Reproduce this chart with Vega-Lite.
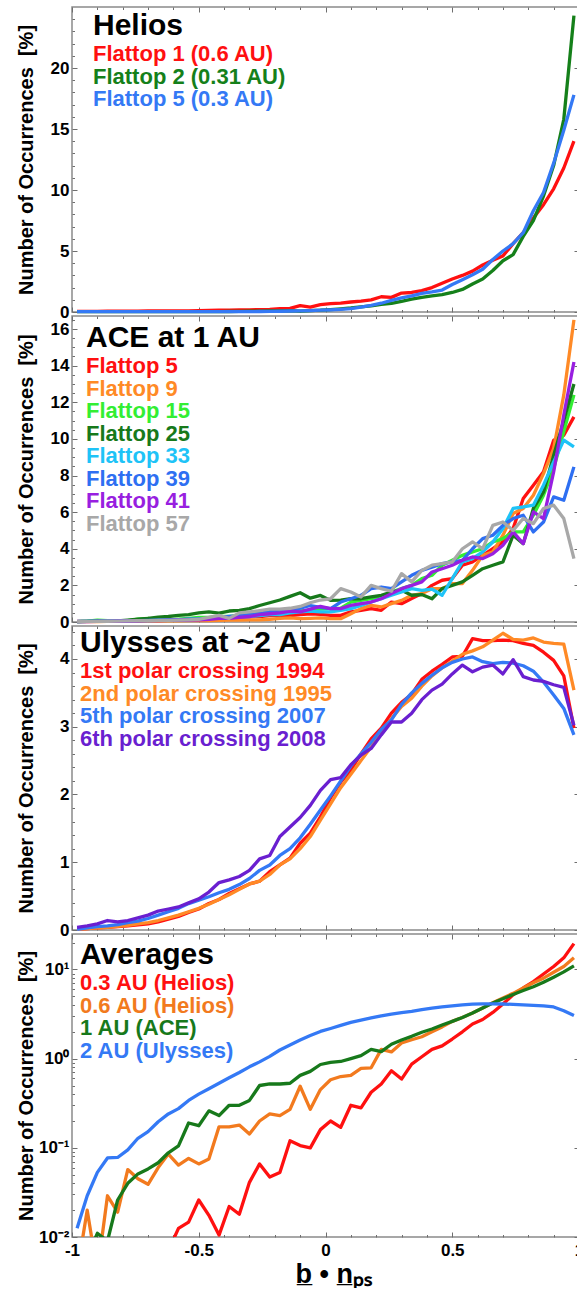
{
"$schema": "https://vega.github.io/schema/vega-lite/v6.json",
"background": "white",
"padding": {"left": 15, "top": 5, "right": 0, "bottom": 0},
"spacing": 4,
"bounds": "flush",
"config": {
  "font": "Liberation Sans",
  "view": {"stroke": "#8a8a8a", "strokeWidth": 1.5},
  "axis": {"domain": false, "grid": false, "tickColor": "#6e6e6e", "tickWidth": 1, "labelFont": "Liberation Sans", "labelFontWeight": "bold", "labelColor": "black", "labelFontSize": 17, "labelOverlap": false, "labelFlush": false, "labelBound": false, "titleFont": "Liberation Sans", "titleFontWeight": "bold", "titleColor": "black"},
  "legend": {"titleFontSize": 30, "titleFont": "Liberation Sans", "titleFontWeight": "bold", "titleColor": "black", "titleLimit": 600, "titlePadding": 2, "titleAnchor": "start", "labelFontSize": 22, "labelFont": "Liberation Sans", "labelFontWeight": "bold", "labelLimit": 600, "symbolSize": 1, "symbolType": "circle", "symbolStrokeWidth": 0, "symbolOpacity": 0, "labelOffset": -22, "rowPadding": 0.5, "padding": 0, "direction": "vertical"},
  "line": {"strokeWidth": 3.3, "strokeJoin": "round"}
},
"datasets": {
"p1": [
{"x":-0.98,"a":0.05,"b":0.03,"c":0.03},{"x":-0.94,"a":0.05,"b":0.03,"c":0.03},{"x":-0.9,"a":0.05,"b":0.03,"c":0.03},{"x":-0.86,"a":0.06,"b":0.03,"c":0.03},{"x":-0.82,"a":0.06,"b":0.03,"c":0.03},
{"x":-0.78,"a":0.07,"b":0.03,"c":0.03},{"x":-0.74,"a":0.07,"b":0.03,"c":0.03},{"x":-0.7,"a":0.08,"b":0.03,"c":0.03},{"x":-0.66,"a":0.08,"b":0.03,"c":0.03},{"x":-0.62,"a":0.09,"b":0.03,"c":0.03},
{"x":-0.58,"a":0.1,"b":0.03,"c":0.03},{"x":-0.54,"a":0.1,"b":0.03,"c":0.03},{"x":-0.5,"a":0.12,"b":0.03,"c":0.03},{"x":-0.46,"a":0.13,"b":0.03,"c":0.03},{"x":-0.42,"a":0.15,"b":0.03,"c":0.03},
{"x":-0.38,"a":0.16,"b":0.04,"c":0.03},{"x":-0.34,"a":0.17,"b":0.05,"c":0.03},{"x":-0.3,"a":0.18,"b":0.06,"c":0.03},{"x":-0.26,"a":0.2,"b":0.07,"c":0.04},{"x":-0.22,"a":0.22,"b":0.08,"c":0.05},
{"x":-0.18,"a":0.28,"b":0.1,"c":0.06},{"x":-0.14,"a":0.3,"b":0.12,"c":0.08},{"x":-0.1,"a":0.52,"b":0.08,"c":0.1},{"x":-0.06,"a":0.4,"b":0.12,"c":0.12},{"x":-0.02,"a":0.6,"b":0.15,"c":0.15},
{"x":0.02,"a":0.68,"b":0.2,"c":0.18},{"x":0.06,"a":0.72,"b":0.26,"c":0.22},{"x":0.1,"a":0.82,"b":0.33,"c":0.28},{"x":0.14,"a":0.9,"b":0.42,"c":0.4},{"x":0.18,"a":1.0,"b":0.5,"c":0.55},
{"x":0.22,"a":1.25,"b":0.62,"c":0.72},{"x":0.26,"a":1.2,"b":0.7,"c":0.95},{"x":0.3,"a":1.55,"b":0.88,"c":1.15},{"x":0.34,"a":1.6,"b":1.05,"c":1.32},{"x":0.38,"a":1.75,"b":1.2,"c":1.52},
{"x":0.42,"a":2.0,"b":1.32,"c":1.65},{"x":0.46,"a":2.35,"b":1.42,"c":1.8},{"x":0.5,"a":2.7,"b":1.6,"c":2.25},{"x":0.54,"a":3.0,"b":1.85,"c":2.65},{"x":0.58,"a":3.35,"b":2.3,"c":3.05},
{"x":0.62,"a":3.85,"b":2.7,"c":3.5},{"x":0.66,"a":4.25,"b":3.4,"c":4.3},{"x":0.7,"a":4.6,"b":4.2,"c":5.0},{"x":0.74,"a":5.6,"b":4.7,"c":5.6},{"x":0.78,"a":6.5,"b":6.2,"c":6.5},
{"x":0.82,"a":7.7,"b":7.5,"c":8.3},{"x":0.86,"a":8.8,"b":9.5,"c":9.8},{"x":0.9,"a":10.1,"b":12.0,"c":12.2},{"x":0.94,"a":11.8,"b":15.8,"c":14.9},{"x":0.98,"a":14.0,"b":24.3,"c":17.8}
],
"p2": [
{"x":-0.98,"a":0.03,"b":0.02,"c":0.02,"d":0.02,"e":0.02,"f":0.03,"g":0.02,"h":0.02},
{"x":-0.94,"a":0.03,"b":0.02,"c":0.05,"d":0.03,"e":0.03,"f":0.03,"g":0.02,"h":0.03},
{"x":-0.9,"a":0.04,"b":0.02,"c":0.1,"d":0.05,"e":0.03,"f":0.04,"g":0.03,"h":0.03},
{"x":-0.86,"a":0.05,"b":0.03,"c":0.08,"d":0.05,"e":0.04,"f":0.05,"g":0.03,"h":0.04},
{"x":-0.82,"a":0.06,"b":0.03,"c":0.05,"d":0.06,"e":0.05,"f":0.06,"g":0.04,"h":0.05},
{"x":-0.78,"a":0.07,"b":0.04,"c":0.08,"d":0.1,"e":0.06,"f":0.07,"g":0.05,"h":0.06},
{"x":-0.74,"a":0.08,"b":0.04,"c":0.15,"d":0.15,"e":0.07,"f":0.08,"g":0.06,"h":0.07},
{"x":-0.7,"a":0.09,"b":0.05,"c":0.2,"d":0.2,"e":0.08,"f":0.09,"g":0.07,"h":0.08},
{"x":-0.66,"a":0.1,"b":0.05,"c":0.12,"d":0.27,"e":0.09,"f":0.1,"g":0.08,"h":0.09},
{"x":-0.62,"a":0.1,"b":0.06,"c":0.1,"d":0.3,"e":0.1,"f":0.12,"g":0.09,"h":0.09},
{"x":-0.58,"a":0.12,"b":0.06,"c":0.15,"d":0.36,"e":0.12,"f":0.13,"g":0.1,"h":0.1},
{"x":-0.54,"a":0.13,"b":0.07,"c":0.2,"d":0.4,"e":0.14,"f":0.15,"g":0.11,"h":0.12},
{"x":-0.5,"a":0.15,"b":0.08,"c":0.25,"d":0.5,"e":0.16,"f":0.17,"g":0.12,"h":0.15},
{"x":-0.46,"a":0.17,"b":0.08,"c":0.25,"d":0.55,"e":0.2,"f":0.2,"g":0.15,"h":0.25},
{"x":-0.42,"a":0.2,"b":0.09,"c":0.3,"d":0.48,"e":0.2,"f":0.25,"g":0.2,"h":0.36},
{"x":-0.38,"a":0.22,"b":0.1,"c":0.3,"d":0.6,"e":0.25,"f":0.3,"g":0.2,"h":0.2},
{"x":-0.34,"a":0.25,"b":0.1,"c":0.35,"d":0.64,"e":0.3,"f":0.35,"g":0.25,"h":0.5},
{"x":-0.3,"a":0.28,"b":0.12,"c":0.4,"d":0.73,"e":0.3,"f":0.4,"g":0.3,"h":0.55},
{"x":-0.26,"a":0.3,"b":0.12,"c":0.45,"d":0.9,"e":0.35,"f":0.45,"g":0.4,"h":0.62},
{"x":-0.22,"a":0.35,"b":0.15,"c":0.5,"d":1.05,"e":0.4,"f":0.6,"g":0.45,"h":0.7},
{"x":-0.18,"a":0.38,"b":0.2,"c":0.5,"d":1.2,"e":0.4,"f":0.65,"g":0.5,"h":0.7},
{"x":-0.14,"a":0.35,"b":0.22,"c":0.55,"d":1.4,"e":0.5,"f":0.7,"g":0.6,"h":0.75},
{"x":-0.1,"a":0.4,"b":0.18,"c":0.6,"d":1.6,"e":0.55,"f":0.75,"g":0.55,"h":0.85},
{"x":-0.06,"a":0.45,"b":0.2,"c":0.65,"d":1.3,"e":0.6,"f":0.9,"g":0.7,"h":1.05},
{"x":-0.02,"a":0.42,"b":0.22,"c":0.7,"d":1.45,"e":0.55,"f":0.8,"g":0.85,"h":1.2},
{"x":0.02,"a":0.36,"b":0.18,"c":0.73,"d":1.18,"e":0.55,"f":0.73,"g":0.73,"h":1.27},
{"x":0.06,"a":0.36,"b":0.18,"c":0.75,"d":1.2,"e":0.64,"f":1.09,"g":0.73,"h":1.82},
{"x":0.1,"a":0.55,"b":0.45,"c":1.09,"d":1.27,"e":0.73,"f":1.27,"g":0.91,"h":1.64},
{"x":0.14,"a":0.64,"b":0.73,"c":1.18,"d":1.27,"e":0.91,"f":1.46,"g":1.0,"h":1.37},
{"x":0.18,"a":0.73,"b":0.91,"c":1.27,"d":1.37,"e":1.09,"f":1.82,"g":1.09,"h":2.0},
{"x":0.22,"a":0.64,"b":0.82,"c":1.37,"d":1.46,"e":1.27,"f":1.91,"g":1.27,"h":1.82},
{"x":0.26,"a":1.09,"b":1.0,"c":1.64,"d":1.64,"e":1.46,"f":1.82,"g":1.55,"h":1.68},
{"x":0.3,"a":1.0,"b":1.18,"c":1.82,"d":1.73,"e":1.64,"f":2.19,"g":1.82,"h":2.64},
{"x":0.34,"a":1.28,"b":1.46,"c":2.0,"d":1.46,"e":1.82,"f":2.55,"g":2.0,"h":2.19},
{"x":0.38,"a":1.55,"b":1.55,"c":2.37,"d":1.5,"e":1.73,"f":2.82,"g":2.19,"h":2.82},
{"x":0.42,"a":2.0,"b":1.82,"c":2.55,"d":1.27,"e":1.8,"f":3.0,"g":2.73,"h":3.1},
{"x":0.46,"a":2.28,"b":1.82,"c":3.1,"d":1.82,"e":1.46,"f":3.19,"g":2.91,"h":3.19},
{"x":0.5,"a":2.37,"b":2.1,"c":3.37,"d":2.0,"e":2.37,"f":3.28,"g":3.1,"h":3.28},
{"x":0.54,"a":3.1,"b":2.1,"c":3.64,"d":2.19,"e":3.28,"f":3.37,"g":3.37,"h":4.0},
{"x":0.58,"a":3.28,"b":2.82,"c":3.83,"d":2.55,"e":3.46,"f":4.0,"g":3.55,"h":4.37},
{"x":0.62,"a":3.64,"b":3.64,"c":4.0,"d":2.91,"e":3.83,"f":4.55,"g":3.46,"h":4.0},
{"x":0.66,"a":4.0,"b":3.83,"c":4.37,"d":3.1,"e":4.37,"f":4.74,"g":3.73,"h":5.28},
{"x":0.7,"a":4.37,"b":4.74,"c":4.55,"d":3.28,"e":5.1,"f":5.28,"g":4.19,"h":5.46},
{"x":0.74,"a":5.1,"b":5.92,"c":4.92,"d":4.74,"e":6.2,"f":5.65,"g":4.92,"h":5.0},
{"x":0.78,"a":6.74,"b":6.2,"c":4.92,"d":4.28,"e":6.28,"f":5.83,"g":4.28,"h":5.65},
{"x":0.82,"a":7.47,"b":6.92,"c":5.83,"d":6.2,"e":6.38,"f":4.92,"g":6.01,"h":5.37},
{"x":0.86,"a":8.2,"b":8.1,"c":6.92,"d":7.1,"e":7.47,"f":5.46,"g":5.65,"h":6.2},
{"x":0.9,"a":9.93,"b":9.47,"c":8.38,"d":9.1,"e":8.74,"f":6.83,"g":8.2,"h":6.38},
{"x":0.94,"a":10.2,"b":12.4,"c":10.4,"d":11.0,"e":9.93,"f":6.65,"g":11.3,"h":5.65},
{"x":0.98,"a":11.2,"b":16.5,"c":12.4,"d":13.0,"e":9.56,"f":8.47,"g":14.2,"h":3.46}
],
"p3": [
{"x":-0.98,"a":0.01,"b":0.01,"c":0.01,"d":0.04},{"x":-0.94,"a":0.02,"b":0.02,"c":0.03,"d":0.06},{"x":-0.9,"a":0.03,"b":0.03,"c":0.05,"d":0.09},{"x":-0.86,"a":0.04,"b":0.04,"c":0.06,"d":0.14},{"x":-0.82,"a":0.05,"b":0.055,"c":0.08,"d":0.12},
{"x":-0.78,"a":0.06,"b":0.07,"c":0.11,"d":0.14},{"x":-0.74,"a":0.075,"b":0.09,"c":0.13,"d":0.18},{"x":-0.7,"a":0.09,"b":0.11,"c":0.17,"d":0.22},{"x":-0.66,"a":0.12,"b":0.14,"c":0.22,"d":0.28},{"x":-0.62,"a":0.16,"b":0.18,"c":0.27,"d":0.31},
{"x":-0.58,"a":0.2,"b":0.22,"c":0.32,"d":0.34},{"x":-0.54,"a":0.26,"b":0.27,"c":0.39,"d":0.4},{"x":-0.5,"a":0.31,"b":0.32,"c":0.44,"d":0.46},{"x":-0.46,"a":0.39,"b":0.38,"c":0.49,"d":0.56},{"x":-0.42,"a":0.45,"b":0.45,"c":0.55,"d":0.7},
{"x":-0.38,"a":0.54,"b":0.52,"c":0.6,"d":0.74},{"x":-0.34,"a":0.61,"b":0.6,"c":0.67,"d":0.79},{"x":-0.3,"a":0.68,"b":0.68,"c":0.76,"d":0.88},{"x":-0.26,"a":0.72,"b":0.72,"c":0.88,"d":1.05},{"x":-0.22,"a":0.86,"b":0.82,"c":0.96,"d":1.1},
{"x":-0.18,"a":0.96,"b":0.96,"c":1.1,"d":1.38},{"x":-0.14,"a":1.06,"b":1.05,"c":1.2,"d":1.52},{"x":-0.1,"a":1.28,"b":1.2,"c":1.36,"d":1.66},{"x":-0.06,"a":1.43,"b":1.38,"c":1.56,"d":1.84},{"x":-0.02,"a":1.67,"b":1.62,"c":1.77,"d":2.06},
{"x":0.02,"a":1.95,"b":1.86,"c":1.98,"d":2.22},{"x":0.06,"a":2.18,"b":2.1,"c":2.2,"d":2.25},{"x":0.1,"a":2.36,"b":2.3,"c":2.42,"d":2.44},{"x":0.14,"a":2.6,"b":2.5,"c":2.6,"d":2.58},{"x":0.18,"a":2.82,"b":2.7,"c":2.77,"d":2.68},
{"x":0.22,"a":2.98,"b":2.92,"c":2.96,"d":2.88},{"x":0.26,"a":3.2,"b":3.12,"c":3.1,"d":3.07},{"x":0.3,"a":3.36,"b":3.3,"c":3.33,"d":3.07},{"x":0.34,"a":3.48,"b":3.42,"c":3.5,"d":3.2},{"x":0.38,"a":3.7,"b":3.6,"c":3.64,"d":3.4},
{"x":0.42,"a":3.82,"b":3.75,"c":3.76,"d":3.54},{"x":0.46,"a":3.92,"b":3.87,"c":3.87,"d":3.63},{"x":0.5,"a":4.03,"b":3.97,"c":3.95,"d":3.78},{"x":0.54,"a":4.04,"b":4.07,"c":4.0,"d":3.91},{"x":0.58,"a":4.3,"b":4.12,"c":4.03,"d":3.81},
{"x":0.62,"a":4.27,"b":4.18,"c":3.96,"d":3.88},{"x":0.66,"a":4.27,"b":4.28,"c":3.93,"d":3.91},{"x":0.7,"a":4.28,"b":4.38,"c":3.95,"d":3.78},{"x":0.74,"a":4.27,"b":4.29,"c":3.94,"d":3.99},{"x":0.78,"a":4.23,"b":4.28,"c":3.9,"d":3.74},
{"x":0.82,"a":4.2,"b":4.31,"c":3.82,"d":3.69},{"x":0.86,"a":4.1,"b":4.25,"c":3.66,"d":3.67},{"x":0.9,"a":3.98,"b":4.23,"c":3.47,"d":3.62},{"x":0.94,"a":3.75,"b":4.22,"c":3.27,"d":3.58},{"x":0.98,"a":2.98,"b":3.54,"c":2.88,"d":3.02}
],
"p4": [
{"x":-0.98,"a":0.004,"b":0.004,"c":0.004,"d":0.0125},{"x":-0.94,"a":0.004,"b":0.02,"c":0.006,"d":0.029},{"x":-0.9,"a":0.004,"b":0.004,"c":0.011,"d":0.053},{"x":-0.86,"a":0.004,"b":0.029,"c":0.009,"d":0.077},{"x":-0.82,"a":0.004,"b":0.019,"c":0.026,"d":0.078},
{"x":-0.78,"a":0.004,"b":0.057,"c":0.04,"d":0.095},{"x":-0.74,"a":0.004,"b":0.045,"c":0.051,"d":0.128},{"x":-0.7,"a":0.004,"b":0.039,"c":0.058,"d":0.152},{"x":-0.66,"a":0.004,"b":0.06,"c":0.068,"d":0.196},{"x":-0.62,"a":0.007,"b":0.085,"c":0.088,"d":0.24},
{"x":-0.58,"a":0.0125,"b":0.064,"c":0.105,"d":0.275},{"x":-0.54,"a":0.0147,"b":0.076,"c":0.19,"d":0.34},{"x":-0.5,"a":0.026,"b":0.066,"c":0.177,"d":0.4},{"x":-0.46,"a":0.0175,"b":0.075,"c":0.26,"d":0.46},{"x":-0.42,"a":0.0105,"b":0.172,"c":0.23,"d":0.53},
{"x":-0.38,"a":0.022,"b":0.172,"c":0.3,"d":0.61},{"x":-0.34,"a":0.018,"b":0.18,"c":0.3,"d":0.7},{"x":-0.3,"a":0.041,"b":0.143,"c":0.34,"d":0.81},{"x":-0.26,"a":0.066,"b":0.2,"c":0.5,"d":0.92},{"x":-0.22,"a":0.047,"b":0.24,"c":0.52,"d":1.06},
{"x":-0.18,"a":0.053,"b":0.23,"c":0.52,"d":1.25},{"x":-0.14,"a":0.12,"b":0.27,"c":0.53,"d":1.42},{"x":-0.1,"a":0.106,"b":0.49,"c":0.65,"d":1.62},{"x":-0.06,"a":0.1,"b":0.27,"c":0.72,"d":1.82},{"x":-0.02,"a":0.16,"b":0.45,"c":0.86,"d":2.02},
{"x":0.02,"a":0.2,"b":0.58,"c":0.91,"d":2.18},{"x":0.06,"a":0.17,"b":0.63,"c":0.93,"d":2.36},{"x":0.1,"a":0.3,"b":0.65,"c":1.0,"d":2.55},{"x":0.14,"a":0.28,"b":0.78,"c":1.08,"d":2.7},{"x":0.18,"a":0.42,"b":0.79,"c":1.27,"d":2.86},
{"x":0.22,"a":0.52,"b":1.27,"c":1.2,"d":3.02},{"x":0.26,"a":0.73,"b":1.19,"c":1.45,"d":3.15},{"x":0.3,"a":0.59,"b":1.5,"c":1.62,"d":3.28},{"x":0.34,"a":0.87,"b":1.63,"c":1.78,"d":3.4},{"x":0.38,"a":1.05,"b":1.76,"c":1.98,"d":3.55},
{"x":0.42,"a":1.27,"b":2.0,"c":2.15,"d":3.68},{"x":0.46,"a":1.39,"b":2.27,"c":2.38,"d":3.8},{"x":0.5,"a":1.66,"b":2.62,"c":2.62,"d":3.91},{"x":0.54,"a":2.0,"b":2.9,"c":2.9,"d":4.0},{"x":0.58,"a":2.45,"b":3.25,"c":3.25,"d":4.08},
{"x":0.62,"a":2.75,"b":3.7,"c":3.7,"d":4.11},{"x":0.66,"a":3.3,"b":4.25,"c":4.2,"d":4.11},{"x":0.7,"a":4.1,"b":4.8,"c":4.7,"d":4.1},{"x":0.74,"a":5.2,"b":5.4,"c":5.25,"d":4.06},{"x":0.78,"a":6.2,"b":6.2,"c":5.8,"d":4.01},
{"x":0.82,"a":7.3,"b":7.1,"c":6.4,"d":3.96},{"x":0.86,"a":8.9,"b":8.0,"c":7.2,"d":3.9},{"x":0.9,"a":10.8,"b":9.3,"c":8.2,"d":3.8},{"x":0.94,"a":13.5,"b":10.8,"c":9.4,"d":3.45},{"x":0.98,"a":19.5,"b":13.5,"c":11.0,"d":3.05}
]
},
"vconcat": [
{
  "width": 507, "height": 305,
  "data": {"name": "p1"},
  "transform": [{"fold": ["a","b","c"], "as": ["s","v"]}],
  "layer": [
    {"mark": {"type": "line", "clip": false},
     "encoding": {
       "x": {"field": "x", "type": "quantitative", "scale": {"domain": [-1, 1], "nice": false, "zero": false},
             "axis": {"orient": "bottom", "values": [-1,-0.9,-0.8,-0.7,-0.6,-0.5,-0.4,-0.3,-0.2,-0.1,0,0.1,0.2,0.3,0.4,0.5,0.6,0.7,0.8,0.9,1], "labels": false, "title": null,
                      "tickSize": {"condition": {"test": "abs(datum.value*2-round(datum.value*2))<0.001", "value": -5}, "value": -2.5}}},
       "y": {"field": "v", "type": "quantitative", "scale": {"domain": [0, 25], "nice": false, "zero": false},
             "axis": {"orient": "left", "values": [0,1,2,3,4,5,6,7,8,9,10,11,12,13,14,15,16,17,18,19,20,21,22,23,24],
                      "labelExpr": "datum.value % 5 === 0 ? ''+datum.value : ''", "labelPadding": 8,
                      "tickSize": {"condition": {"test": "datum.value % 5 === 0", "value": -5}, "value": -2.5},
                      "title": "Number of Occurrences\u00a0 [%]", "titleFontSize": 20, "titleX": -40, "titleY": 152.5, "titleAngle": -90, "titleAlign": "center", "titleBaseline": "alphabetic"}},
       "color": {"field": "s", "type": "nominal", "scale": {"domain": ["a","b","c"], "range": ["#ff1010","#15801a","#3479f5"]},
                 "legend": {"orient": "none", "legendX": 21, "legendY": 4, "title": "Helios",
                            "labelExpr": "['Flattop 1 (0.6 AU)','Flattop 2 (0.31 AU)','Flattop 5 (0.3 AU)'][indexof(['a','b','c'], datum.value)]",
                            "labelColor": {"expr": "datum.value==='a' ? '#ff1010' : datum.value==='b' ? '#15801a' : '#3479f5'"}}}
     }},
    {"mark": {"type": "line", "opacity": 0},
     "encoding": {
       "x": {"field": "x", "type": "quantitative", "scale": {"domain": [-1, 1], "nice": false, "zero": false},
             "axis": {"orient": "top", "values": [-1,-0.9,-0.8,-0.7,-0.6,-0.5,-0.4,-0.3,-0.2,-0.1,0,0.1,0.2,0.3,0.4,0.5,0.6,0.7,0.8,0.9,1], "labels": false, "title": null,
                      "tickSize": {"condition": {"test": "abs(datum.value*2-round(datum.value*2))<0.001", "value": -5}, "value": -2.5}}},
       "y": {"field": "v", "type": "quantitative", "scale": {"domain": [0, 25], "nice": false, "zero": false},
             "axis": {"orient": "right", "values": [0,1,2,3,4,5,6,7,8,9,10,11,12,13,14,15,16,17,18,19,20,21,22,23,24], "labels": false, "title": null,
                      "tickSize": {"condition": {"test": "datum.value % 5 === 0", "value": -5}, "value": -2.5}}},
       "detail": {"field": "s", "type": "nominal"}
     }}
  ],
  "resolve": {"axis": {"x": "independent", "y": "independent"}}
},
{
  "width": 507, "height": 306,
  "data": {"name": "p2"},
  "transform": [{"fold": ["a","b","c","d","e","f","g","h"], "as": ["s","v"]}],
  "layer": [
    {"mark": {"type": "line", "clip": false},
     "encoding": {
       "x": {"field": "x", "type": "quantitative", "scale": {"domain": [-1, 1], "nice": false, "zero": false},
             "axis": {"orient": "bottom", "values": [-1,-0.9,-0.8,-0.7,-0.6,-0.5,-0.4,-0.3,-0.2,-0.1,0,0.1,0.2,0.3,0.4,0.5,0.6,0.7,0.8,0.9,1], "labels": false, "title": null,
                      "tickSize": {"condition": {"test": "abs(datum.value*2-round(datum.value*2))<0.001", "value": -5}, "value": -2.5}}},
       "y": {"field": "v", "type": "quantitative", "scale": {"domain": [0, 16.71], "nice": false, "zero": false},
             "axis": {"orient": "left", "values": [0,0.5,1,1.5,2,2.5,3,3.5,4,4.5,5,5.5,6,6.5,7,7.5,8,8.5,9,9.5,10,10.5,11,11.5,12,12.5,13,13.5,14,14.5,15,15.5,16,16.5],
                      "labelExpr": "datum.value % 2 === 0 ? ''+datum.value : ''", "labelPadding": 8,
                      "tickSize": {"condition": {"test": "datum.value % 2 === 0", "value": -5}, "value": -2.5},
                      "title": "Number of Occurrences\u00a0 [%]", "titleFontSize": 20, "titleX": -40, "titleY": 153, "titleAngle": -90, "titleAlign": "center", "titleBaseline": "alphabetic"}},
       "color": {"field": "s", "type": "nominal", "scale": {"domain": ["a","b","c","d","e","f","g","h"], "range": ["#ff1010","#ff8a26","#33ee33","#17791b","#1ec3f7","#2e6ff2","#981fe0","#a8a8a8"]},
                 "legend": {"orient": "none", "legendX": 14, "legendY": 7, "title": "ACE at 1 AU",
                            "labelExpr": "['Flattop 5','Flattop 9','Flattop 15','Flattop 25','Flattop 33','Flattop 39','Flattop 41','Flattop 57'][indexof(['a','b','c','d','e','f','g','h'], datum.value)]",
                            "labelColor": {"expr": "datum.value==='a' ? '#ff1010' : datum.value==='b' ? '#ff8a26' : datum.value==='c' ? '#33ee33' : datum.value==='d' ? '#17791b' : datum.value==='e' ? '#1ec3f7' : datum.value==='f' ? '#2e6ff2' : datum.value==='g' ? '#981fe0' : '#a8a8a8'"}}}
     }},
    {"mark": {"type": "line", "opacity": 0},
     "encoding": {
       "x": {"field": "x", "type": "quantitative", "scale": {"domain": [-1, 1], "nice": false, "zero": false},
             "axis": {"orient": "top", "values": [-1,-0.9,-0.8,-0.7,-0.6,-0.5,-0.4,-0.3,-0.2,-0.1,0,0.1,0.2,0.3,0.4,0.5,0.6,0.7,0.8,0.9,1], "labels": false, "title": null,
                      "tickSize": {"condition": {"test": "abs(datum.value*2-round(datum.value*2))<0.001", "value": -5}, "value": -2.5}}},
       "y": {"field": "v", "type": "quantitative", "scale": {"domain": [0, 16.71], "nice": false, "zero": false},
             "axis": {"orient": "right", "values": [0,0.5,1,1.5,2,2.5,3,3.5,4,4.5,5,5.5,6,6.5,7,7.5,8,8.5,9,9.5,10,10.5,11,11.5,12,12.5,13,13.5,14,14.5,15,15.5,16,16.5], "labels": false, "title": null,
                      "tickSize": {"condition": {"test": "datum.value % 2 === 0", "value": -5}, "value": -2.5}}},
       "detail": {"field": "s", "type": "nominal"}
     }}
  ],
  "resolve": {"axis": {"x": "independent", "y": "independent"}}
},
{
  "width": 507, "height": 304,
  "data": {"name": "p3"},
  "transform": [{"fold": ["a","b","c","d"], "as": ["s","v"]}],
  "layer": [
    {"mark": {"type": "line", "clip": false},
     "encoding": {
       "x": {"field": "x", "type": "quantitative", "scale": {"domain": [-1, 1], "nice": false, "zero": false},
             "axis": {"orient": "bottom", "values": [-1,-0.9,-0.8,-0.7,-0.6,-0.5,-0.4,-0.3,-0.2,-0.1,0,0.1,0.2,0.3,0.4,0.5,0.6,0.7,0.8,0.9,1], "labels": false, "title": null,
                      "tickSize": {"condition": {"test": "abs(datum.value*2-round(datum.value*2))<0.001", "value": -5}, "value": -2.5}}},
       "y": {"field": "v", "type": "quantitative", "scale": {"domain": [0, 4.487], "nice": false, "zero": false},
             "axis": {"orient": "left", "values": [0,0.2,0.4,0.6,0.8,1,1.2,1.4,1.6,1.8,2,2.2,2.4,2.6,2.8,3,3.2,3.4,3.6,3.8,4,4.2,4.4],
                      "labelExpr": "abs(datum.value-round(datum.value))<0.001 ? ''+datum.value : ''", "labelPadding": 8,
                      "tickSize": {"condition": {"test": "abs(datum.value-round(datum.value))<0.001", "value": -5}, "value": -2.5},
                      "title": "Number of Occurrences\u00a0 [%]", "titleFontSize": 20, "titleX": -40, "titleY": 152, "titleAngle": -90, "titleAlign": "center", "titleBaseline": "alphabetic"}},
       "color": {"field": "s", "type": "nominal", "scale": {"domain": ["a","b","c","d"], "range": ["#ff1010","#ff8a26","#3479f5","#6a1fd0"]},
                 "legend": {"orient": "none", "legendX": 8, "legendY": 2, "title": "Ulysses at ~2 AU",
                            "labelExpr": "['1st polar crossing 1994','2nd polar crossing 1995','5th polar crossing 2007','6th polar crossing 2008'][indexof(['a','b','c','d'], datum.value)]",
                            "labelColor": {"expr": "datum.value==='a' ? '#ff1010' : datum.value==='b' ? '#ff8a26' : datum.value==='c' ? '#3479f5' : '#6a1fd0'"}}}
     }},
    {"mark": {"type": "line", "opacity": 0},
     "encoding": {
       "x": {"field": "x", "type": "quantitative", "scale": {"domain": [-1, 1], "nice": false, "zero": false},
             "axis": {"orient": "top", "values": [-1,-0.9,-0.8,-0.7,-0.6,-0.5,-0.4,-0.3,-0.2,-0.1,0,0.1,0.2,0.3,0.4,0.5,0.6,0.7,0.8,0.9,1], "labels": false, "title": null,
                      "tickSize": {"condition": {"test": "abs(datum.value*2-round(datum.value*2))<0.001", "value": -5}, "value": -2.5}}},
       "y": {"field": "v", "type": "quantitative", "scale": {"domain": [0, 4.487], "nice": false, "zero": false},
             "axis": {"orient": "right", "values": [0,0.2,0.4,0.6,0.8,1,1.2,1.4,1.6,1.8,2,2.2,2.4,2.6,2.8,3,3.2,3.4,3.6,3.8,4,4.2,4.4], "labels": false, "title": null,
                      "tickSize": {"condition": {"test": "abs(datum.value-round(datum.value))<0.001", "value": -5}, "value": -2.5}}},
       "detail": {"field": "s", "type": "nominal"}
     }}
  ],
  "resolve": {"axis": {"x": "independent", "y": "independent"}}
},
{
  "width": 507, "height": 303,
  "data": {"name": "p4"},
  "transform": [{"fold": ["a","b","c","d"], "as": ["s","v"]}],
  "layer": [
    {"mark": {"type": "line", "clip": true},
     "encoding": {
       "x": {"field": "x", "type": "quantitative", "scale": {"domain": [-1, 1], "nice": false, "zero": false},
             "axis": {"orient": "bottom", "values": [-1,-0.9,-0.8,-0.7,-0.6,-0.5,-0.4,-0.3,-0.2,-0.1,0,0.1,0.2,0.3,0.4,0.5,0.6,0.7,0.8,0.9,1],
                      "labelExpr": "abs(datum.value*2-round(datum.value*2))<0.001 ? ''+datum.value : ''", "labelPadding": 10,
                      "tickSize": {"condition": {"test": "abs(datum.value*2-round(datum.value*2))<0.001", "value": -5}, "value": -2.5},
                      "title": "b\u0332 \u2022 n\u0332\u209a\u209b", "titleFontSize": 27, "titleX": 223, "titleY": 45, "titleAlign": "left", "titleBaseline": "alphabetic", "titleAngle": 0}},
       "y": {"field": "v", "type": "quantitative", "scale": {"type": "log", "domain": [0.01, 25], "nice": false},
             "axis": {"orient": "left", "values": [0.01,0.02,0.03,0.04,0.05,0.06,0.07,0.08,0.09,0.1,0.2,0.3,0.4,0.5,0.6,0.7,0.8,0.9,1,2,3,4,5,6,7,8,9,10,20],
                      "labelExpr": "datum.value === 10 ? '10\u00b9' : datum.value === 1 ? '10\u2070' : datum.value === 0.1 ? '10\u207b\u00b9' : datum.value === 0.01 ? '10\u207b\u00b2' : ''", "labelPadding": 8,
                      "tickSize": {"condition": {"test": "abs(log(datum.value)/LN10-round(log(datum.value)/LN10))<0.001", "value": -5}, "value": -2.5},
                      "title": "Number of Occurrences\u00a0 [%]", "titleFontSize": 20, "titleX": -40, "titleY": 151.5, "titleAngle": -90, "titleAlign": "center", "titleBaseline": "alphabetic"}},
       "color": {"field": "s", "type": "nominal", "scale": {"domain": ["a","b","c","d"], "range": ["#ff1010","#f27a1e","#17791b","#3479f5"]},
                 "legend": {"orient": "none", "legendX": 8, "legendY": 6, "title": "Averages",
                            "labelExpr": "['0.3 AU (Helios)','0.6 AU (Helios)','1 AU (ACE)','2 AU (Ulysses)'][indexof(['a','b','c','d'], datum.value)]",
                            "labelColor": {"expr": "datum.value==='a' ? '#ff1010' : datum.value==='b' ? '#f27a1e' : datum.value==='c' ? '#17791b' : '#3479f5'"}}}
     }},
    {"mark": {"type": "line", "opacity": 0, "clip": true},
     "encoding": {
       "x": {"field": "x", "type": "quantitative", "scale": {"domain": [-1, 1], "nice": false, "zero": false},
             "axis": {"orient": "top", "values": [-1,-0.9,-0.8,-0.7,-0.6,-0.5,-0.4,-0.3,-0.2,-0.1,0,0.1,0.2,0.3,0.4,0.5,0.6,0.7,0.8,0.9,1], "labels": false, "title": null,
                      "tickSize": {"condition": {"test": "abs(datum.value*2-round(datum.value*2))<0.001", "value": -5}, "value": -2.5}}},
       "y": {"field": "v", "type": "quantitative", "scale": {"type": "log", "domain": [0.01, 25], "nice": false},
             "axis": {"orient": "right", "values": [0.01,0.02,0.03,0.04,0.05,0.06,0.07,0.08,0.09,0.1,0.2,0.3,0.4,0.5,0.6,0.7,0.8,0.9,1,2,3,4,5,6,7,8,9,10,20], "labels": false, "title": null,
                      "tickSize": {"condition": {"test": "abs(log(datum.value)/LN10-round(log(datum.value)/LN10))<0.001", "value": -5}, "value": -2.5}}},
       "detail": {"field": "s", "type": "nominal"}
     }}
  ],
  "resolve": {"axis": {"x": "independent", "y": "independent"}}
}
],
"resolve": {"scale": {"x": "independent", "y": "independent", "color": "independent"}, "legend": {"color": "independent"}}
}
